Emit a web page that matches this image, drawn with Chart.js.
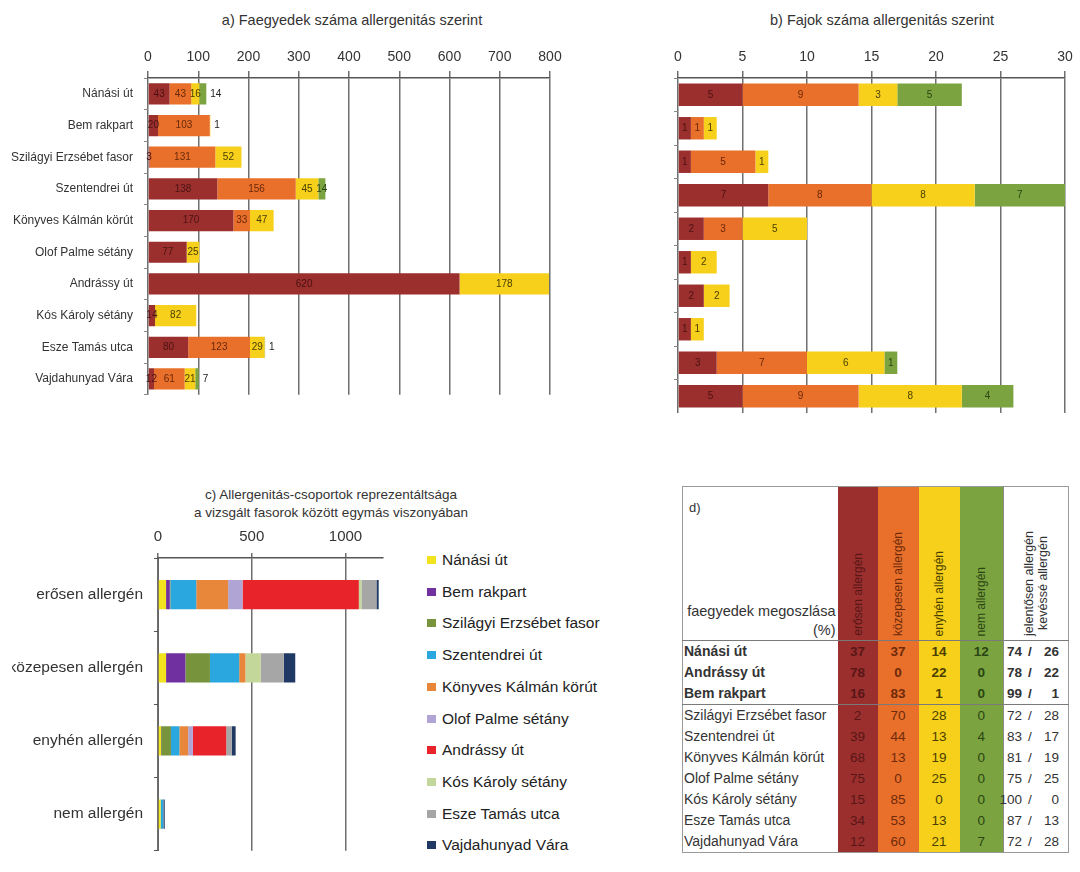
<!DOCTYPE html>
<html lang="hu">
<head>
<meta charset="utf-8">
<title>Faegyedek és fajok allergenitás szerint</title>
<script src="https://cdn.jsdelivr.net/npm/chart.js@4.4.1/dist/chart.umd.min.js"></script>
<style>
  html, body { margin:0; padding:0; background:#fff; }
  body { width:1080px; height:872px; position:relative; overflow:hidden;
         font-family:"Liberation Sans", Arial, sans-serif; color:#333; }
  .title { position:absolute; text-align:center; color:#333; white-space:nowrap; transform:translateX(-50%); }
  canvas { position:absolute; }
  #clipC { position:absolute; left:12px; top:520px; width:420px; height:352px; overflow:hidden; }
  .legItem { position:absolute; left:427px; height:18px; line-height:18px; font-size:15.5px; color:#222; white-space:nowrap; }
  .legItem .sw { position:absolute; left:0; top:5px; width:9px; height:8px; }
  .legItem .tx { position:absolute; left:15px; top:0; }

  #share { position:absolute; left:682px; top:486px; border-collapse:collapse; table-layout:fixed;
           width:386px; border:1px solid #9a9a9a; font-size:13.5px; color:#333; }
  #share td { padding:0; height:21px; line-height:21px; text-align:center; white-space:nowrap; overflow:visible; }
  #share tr.head td { height:153px; position:relative; vertical-align:bottom; }
  #share tr.head { border-bottom:1px solid #7a7a7a; }
  #share tr.sep { border-bottom:1px solid #7a7a7a; }
  #share tr.bold td { font-weight:bold; }
  #share td.name { text-align:left; padding-left:1px; font-size:14px; }
  #share td.ratio { position:relative; border-left:1px solid #8a8a8a; }
  #share td.ratio span { position:absolute; top:0; }
  #share td.ratio .l { right:46px; }
  #share td.ratio .s { left:26px; transform:translateX(-50%); }
  #share td.ratio .r { right:9px; }
  #share .c0 { background:#9b2f2e; color:#581616; }
  #share .c1 { background:#e8702a; color:#6e2a0b; }
  #share .c2 { background:#f6d01a; color:#4a3e00; }
  #share .c3 { background:#7ba33f; color:#2a4513; }
  #share .hd { position:absolute; left:6px; top:10px; font-size:13px; }
  #share .cap { position:absolute; right:2px; bottom:0; text-align:right; line-height:19px; font-size:14.5px; }
  #share .vt { position:absolute; bottom:4px; left:50%; writing-mode:vertical-rl;
               transform:translateX(-50%) rotate(180deg); font-size:12px; line-height:14px; white-space:nowrap; }
  #share .vt2 { font-size:12.5px; line-height:14px; color:#333; }
</style>
</head>
<body>

<div class="title" style="left:352px; top:11px; font-size:14.5px; line-height:18px;">a) Faegyedek száma allergenitás szerint</div>
<div class="title" style="left:882px; top:11px; font-size:14.5px; line-height:18px;">b) Fajok száma allergenitás szerint</div>
<div class="title" style="left:331px; top:486px; font-size:13.5px; line-height:18px;">c) Allergenitás-csoportok reprezentáltsága<br>a vizsgált fasorok között egymás viszonyában</div>

<canvas id="chartA" width="570" height="413" style="left:0; top:0;"></canvas>
<canvas id="chartB" width="440" height="413" style="left:640px; top:0;"></canvas>
<div id="clipC"><canvas id="chartC" width="413" height="351" style="left:-12px; top:0;"></canvas></div>
<div id="legendC"></div>

<table id="share">
  <colgroup>
    <col style="width:155px"><col style="width:40px"><col style="width:41px"><col style="width:41px"><col style="width:44px"><col style="width:65px">
  </colgroup>
  <tbody id="shareBody">
    <tr class="head">
      <td><span class="hd">d)</span><span class="cap">faegyedek megoszlása<br>(%)</span></td>
      <td class="c0"><div class="vt">erősen allergén</div></td>
      <td class="c1"><div class="vt">közepesen allergén</div></td>
      <td class="c2"><div class="vt">enyhén allergén</div></td>
      <td class="c3"><div class="vt">nem allergén</div></td>
      <td class="ratio" style="position:relative"><div class="vt vt2">jelentősen allergén<br>kevéssé allergén</div></td>
    </tr>
  </tbody>
</table>

<script>
// Streets (tree rows) and allergenicity groups
const streets = ['Nánási út', 'Bem rakpart', 'Szilágyi Erzsébet fasor', 'Szentendrei út',
  'Könyves Kálmán körút', 'Olof Palme sétány', 'Andrássy út', 'Kós Károly sétány',
  'Esze Tamás utca', 'Vajdahunyad Vára'];
const groups = ['erősen allergén', 'közepesen allergén', 'enyhén allergén', 'nem allergén'];

// a) number of trees per street, by allergenicity
const treesStrong = [43, 20, 3, 138, 170, 77, 620, 14, 80, 12];
const treesMedium = [43, 103, 131, 156, 33, 0, 0, 0, 123, 61];
const treesMild   = [16, 1, 52, 45, 47, 25, 178, 82, 29, 21];
const treesNone   = [14, 0, 0, 14, 0, 0, 0, 0, 1, 7];

// b) number of species per street, by allergenicity
const speciesStrong = [5, 1, 1, 7, 2, 1, 2, 1, 3, 5];
const speciesMedium = [9, 1, 5, 8, 3, 0, 0, 0, 7, 9];
const speciesMild   = [3, 1, 1, 8, 5, 2, 2, 1, 6, 8];
const speciesNone   = [5, 0, 0, 7, 0, 0, 0, 0, 1, 4];

// c) trees of each street inside each allergenicity group
const groupStrong = [43, 20, 3, 138, 170, 77, 620, 14, 80, 12];
const groupMedium = [43, 103, 131, 156, 33, 0, 0, 82, 123, 61];
const groupMild   = [16, 1, 52, 45, 47, 25, 178, 0, 29, 21];
const groupNone   = [14, 0, 0, 14, 0, 0, 0, 0, 1, 7];
const groupTicks  = [0, 500, 1000];

// d) percentage split of trees
const tableRows = ['Nánási út', 'Andrássy út', 'Bem rakpart', 'Szilágyi Erzsébet fasor',
  'Szentendrei út', 'Könyves Kálmán körút', 'Olof Palme sétány', 'Kós Károly sétány',
  'Esze Tamás utca', 'Vajdahunyad Vára'];
const shareStrong = [37, 78, 16, 2, 39, 68, 75, 15, 34, 12];
const shareMedium = [37, 0, 83, 70, 44, 13, 0, 85, 53, 60];
const shareMild   = [14, 22, 1, 28, 13, 19, 25, 0, 13, 21];
const shareNone   = [12, 0, 0, 0, 4, 0, 0, 0, 0, 7];
const shareHigh   = [74, 78, 99, 72, 83, 81, 75, 100, 87, 72];
const shareLow    = [26, 22, 1, 28, 17, 19, 25, 0, 13, 28];
const boldRows = 3;

// colours
const groupColors = ['#9b2f2e', '#e8702a', '#f6d01a', '#7ba33f'];
const groupTextColors = ['#4a1212', '#6a280a', '#4a3e00', '#2a4513'];
const streetColors = ['#f3e31f', '#7030a0', '#77933c', '#2ba7df', '#e8873a',
  '#b0a4d4', '#e8232a', '#c4d79b', '#a6a6a6', '#1f3864'];

Chart.defaults.font.family = '"Liberation Sans", Arial, sans-serif';
Chart.defaults.color = '#333';

// value labels centred in each stacked segment; a crowded last segment is
// written just past the end of its bar
const segmentLabels = {
  id: 'segmentLabels',
  afterDatasetsDraw(chart, args, opts) {
    if (!opts || !opts.display) return;
    const ctx = chart.ctx;
    ctx.save();
    ctx.font = opts.font;
    ctx.textBaseline = 'middle';
    ctx.textAlign = 'center';
    const sets = chart.data.datasets;
    chart.data.labels.forEach((lab, i) => {
      let last = -1;
      sets.forEach((ds, d) => { if (ds.data[i] > 0) last = d; });
      let prevRight = -Infinity;
      sets.forEach((ds, d) => {
        const v = ds.data[i];
        if (!(v > 0)) return;
        const el = chart.getDatasetMeta(d).data[i];
        const left = Math.min(el.x, el.base), right = Math.max(el.x, el.base);
        const text = String(v);
        const w = ctx.measureText(text).width;
        let cx = (left + right) / 2;
        let color = opts.colors[d];
        if (d === last && (right - left < 2 || cx - w / 2 < prevRight + 1)) {
          cx = right + 4 + w / 2;
          color = opts.outsideColor;
        }
        ctx.fillStyle = color;
        ctx.fillText(text, cx, el.y);
        prevRight = cx + w / 2;
      });
    });
    ctx.restore();
  }
};

function stackedBarOptions(o) {
  const x = {
    type: 'linear', position: 'top', stacked: true, min: 0, max: o.max,
    ticks: { stepSize: o.step, maxRotation: 0, autoSkip: false, padding: o.tickPad,
             color: '#333', font: { size: o.tickFont }, callback: v => String(v) },
    grid: { color: '#6f6f6f', lineWidth: 1.5, tickLength: o.tickLen },
    border: { display: true, color: '#555', width: 1.5 },
    afterFit(s) { s.height = o.headH; s.paddingLeft = 0; s.paddingRight = 0; }
  };
  if (o.tickValues) {
    x.afterBuildTicks = s => { s.ticks = o.tickValues.map(v => ({ value: v })); };
  }
  return {
    indexAxis: 'y',
    responsive: false,
    animation: false,
    layout: { padding: { left: 0, top: 0, right: o.padRight, bottom: 0 } },
    plugins: {
      legend: { display: false },
      tooltip: { enabled: false },
      segmentLabels: o.segLabels || { display: false }
    },
    scales: {
      x,
      y: {
        type: 'category', stacked: true,
        ticks: { display: o.showCats, padding: o.catPad, color: '#333',
                 font: { size: o.catFont }, autoSkip: false },
        grid: { drawOnChartArea: false, offset: true, tickLength: 4, color: o.yTickColor, lineWidth: 1 },
        border: { display: true, color: o.yBorder, width: 1 },
        afterFit(s) { s.width = o.yW; }
      }
    }
  };
}

function groupSets(arrays, thickness) {
  return arrays.map((data, k) => ({
    label: groups[k], data, backgroundColor: groupColors[k], borderWidth: 0,
    barPercentage: thickness, categoryPercentage: 1
  }));
}

const segOpts = { display: true, font: '10px "Liberation Sans", Arial, sans-serif',
                  colors: groupTextColors, outsideColor: '#222' };

// a) trees
new Chart(document.getElementById('chartA'), {
  type: 'bar',
  data: { labels: streets, datasets: groupSets([treesStrong, treesMedium, treesMild, treesNone], 0.67) },
  options: stackedBarOptions({ max: 800, step: 100, padRight: 20, tickPad: 5, tickLen: 7, tickFont: 14,
    headH: 78, showCats: true, catPad: 11, catFont: 12, yW: 148, yTickColor: '#888', yBorder: '#b5b5b5',
    segLabels: segOpts }),
  plugins: [segmentLabels]
});

// b) species
new Chart(document.getElementById('chartB'), {
  type: 'bar',
  data: { labels: streets, datasets: groupSets([speciesStrong, speciesMedium, speciesMild, speciesNone], 0.67) },
  options: stackedBarOptions({ max: 30, step: 5, padRight: 15, tickPad: 5, tickLen: 7, tickFont: 14,
    headH: 78, showCats: false, catPad: 0, catFont: 12, yW: 38, yTickColor: '#888', yBorder: '#b5b5b5',
    segLabels: segOpts }),
  plugins: [segmentLabels]
});

// c) streets within each allergenicity group
const groupArrays = [groupStrong, groupMedium, groupMild, groupNone];
const streetSets = streets.map((name, i) => ({
  label: name, data: groupArrays.map(a => a[i]), backgroundColor: streetColors[i],
  borderWidth: 0, barPercentage: 0.4, categoryPercentage: 1
}));
new Chart(document.getElementById('chartC'), {
  type: 'bar',
  data: { labels: groups, datasets: streetSets },
  options: stackedBarOptions({ max: 1200, step: 500, padRight: 30, tickPad: 7, tickLen: 5, tickFont: 15,
    headH: 38, showCats: true, catPad: 11, catFont: 15.5, yW: 158, yTickColor: '#555', yBorder: '#666',
    tickValues: groupTicks })
});

// legend for c), one entry per street
const legendBox = document.getElementById('legendC');
streetSets.forEach((ds, i) => {
  const item = document.createElement('div');
  item.className = 'legItem';
  item.style.top = (551 + i * 31.7) + 'px';
  item.innerHTML = '<span class="sw" style="background:' + ds.backgroundColor + '"></span><span class="tx">' + ds.label + '</span>';
  legendBox.appendChild(item);
});

// d) percentage table
const body = document.getElementById('shareBody');
tableRows.forEach((name, i) => {
  const tr = document.createElement('tr');
  if (i < boldRows) tr.classList.add('bold');
  if (i === boldRows - 1) tr.classList.add('sep');
  tr.innerHTML =
    '<td class="name">' + name + '</td>' +
    '<td class="c0">' + shareStrong[i] + '</td>' +
    '<td class="c1">' + shareMedium[i] + '</td>' +
    '<td class="c2">' + shareMild[i] + '</td>' +
    '<td class="c3">' + shareNone[i] + '</td>' +
    '<td class="ratio"><span class="l">' + shareHigh[i] + '</span><span class="s">/</span><span class="r">' + shareLow[i] + '</span></td>';
  body.appendChild(tr);
});
</script>
</body>
</html>
